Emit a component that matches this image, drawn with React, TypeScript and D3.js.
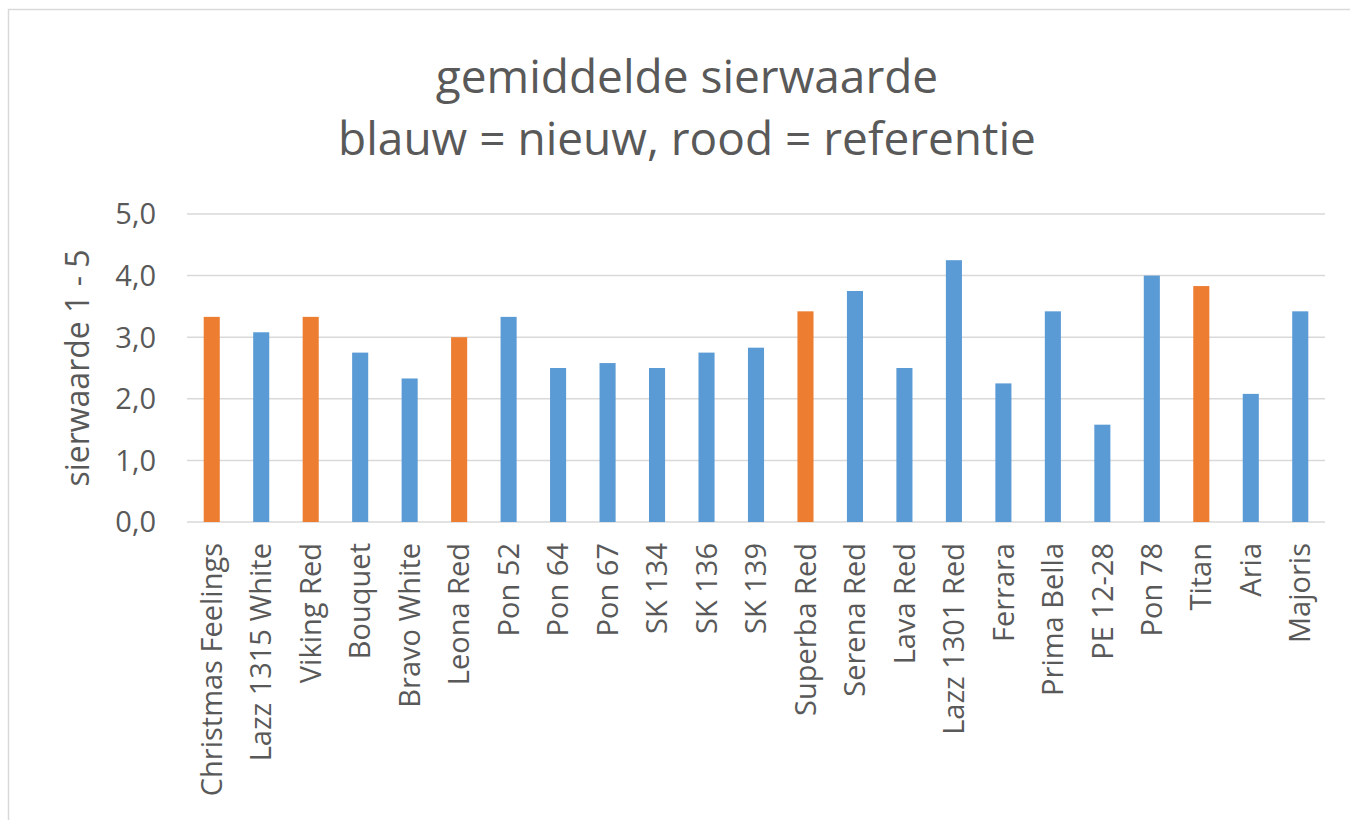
import React, { useEffect, useRef } from 'react';
import * as d3 from 'd3';

// rassen (categories) and gemiddelde sierwaarde
const categories: string[] = [
    'Christmas Feelings', 'Lazz 1315 White', 'Viking Red', 'Bouquet', 'Bravo White',
    'Leona Red', 'Pon 52', 'Pon 64', 'Pon 67', 'SK 134', 'SK 136', 'SK 139',
    'Superba Red', 'Serena Red', 'Lava Red', 'Lazz 1301 Red', 'Ferrara', 'Prima Bella',
    'PE 12-28', 'Pon 78', 'Titan', 'Aria', 'Majoris'
];
const values: number[] = [
    3.33, 3.08, 3.33, 2.75, 2.33,
    3.0, 3.33, 2.5, 2.58, 2.5, 2.75, 2.83,
    3.42, 3.75, 2.5, 4.25, 2.25, 3.42,
    1.58, 4.0, 3.83, 2.08, 3.42
];
// true = referentie (rood), false = nieuw (blauw)
const reference: boolean[] = [
    true, false, true, false, false,
    true, false, false, false, false, false, false,
    true, false, false, false, false, false,
    false, false, true, false, false
];
const yTicks: number[] = [0, 1, 2, 3, 4, 5];
const titleLines: string[] = ['gemiddelde sierwaarde', 'blauw = nieuw, rood = referentie'];
const yTitle = 'sierwaarde 1 - 5';

const W = 1350, H = 820;
const FONT = '"Open Sans", "Noto Sans", sans-serif';
const TEXT = '#595959';

function App() {
    const ref = useRef<SVGGElement | null>(null);

    useEffect(() => {
        const g = d3.select(ref.current);
        g.selectAll('*').remove();

        const plot = {left: 187, right: 1325, top: 214, bottom: 522};

        const x = d3.scaleBand<string>()
            .domain(categories)
            .range([plot.left, plot.right])
            .paddingInner(0.675)
            .paddingOuter(0.3375);
        const y = d3.scaleLinear().domain([0, 5]).range([plot.bottom, plot.top]);

        // chart border
        g.append('rect')
            .attr('x', 8.5).attr('y', 9.5)
            .attr('width', W).attr('height', H)
            .attr('fill', '#fff')
            .attr('stroke', '#d9d9d9')
            .attr('stroke-width', 1.5);

        // gridlines
        g.append('g')
            .selectAll('line')
            .data(yTicks)
            .enter().append('line')
            .attr('x1', plot.left).attr('x2', plot.right)
            .attr('y1', d => y(d)).attr('y2', d => y(d))
            .attr('stroke', '#d9d9d9')
            .attr('stroke-width', 1.5);

        // y tick labels
        g.append('g')
            .selectAll('text')
            .data(yTicks)
            .enter().append('text')
            .attr('x', 156)
            .attr('y', d => y(d))
            .attr('dy', '0.36em')
            .attr('text-anchor', 'end')
            .style('font-family', FONT)
            .style('font-size', '29px')
            .attr('fill', TEXT)
            .text(d => d3.format('.1f')(d).replace('.', ','));

        // bars
        g.append('g')
            .selectAll('rect')
            .data(values)
            .enter().append('rect')
            .attr('x', (d, i) => x(categories[i]) as number)
            .attr('width', x.bandwidth())
            .attr('y', d => y(d))
            .attr('height', d => y(0) - y(d))
            .attr('fill', (d, i) => reference[i] ? '#ed7d31' : '#5b9bd5');

        // category labels
        g.append('g')
            .selectAll('text')
            .data(categories)
            .enter().append('text')
            .attr('transform', d => {
                const cx = (x(d) as number) + x.bandwidth() / 2;
                return 'translate(' + cx + ',' + 543 + ') rotate(-90)';
            })
            .attr('dy', '0.35em')
            .attr('text-anchor', 'end')
            .style('font-family', FONT)
            .style('font-size', '29px')
            .attr('fill', TEXT)
            .text(d => d);

        // y axis title
        g.append('text')
            .attr('transform', 'translate(78,' + (plot.top + plot.bottom) / 2 + ') rotate(-90)')
            .attr('dy', '0.35em')
            .attr('text-anchor', 'middle')
            .style('font-family', FONT)
            .style('font-size', '32px')
            .attr('fill', TEXT)
            .text(yTitle);

        // title
        g.append('g')
            .selectAll('text')
            .data(titleLines)
            .enter().append('text')
            .attr('x', 687)
            .attr('y', (d, i) => 93 + i * 62)
            .attr('text-anchor', 'middle')
            .style('font-family', FONT)
            .style('font-size', '46px')
            .attr('fill', TEXT)
            .text(d => d);
    }, []);

    return <svg width={W} height={H} style={{position: 'absolute', left: 0, top: 0}}>
        <g ref={ref}></g>
    </svg>;
}

export default App;
